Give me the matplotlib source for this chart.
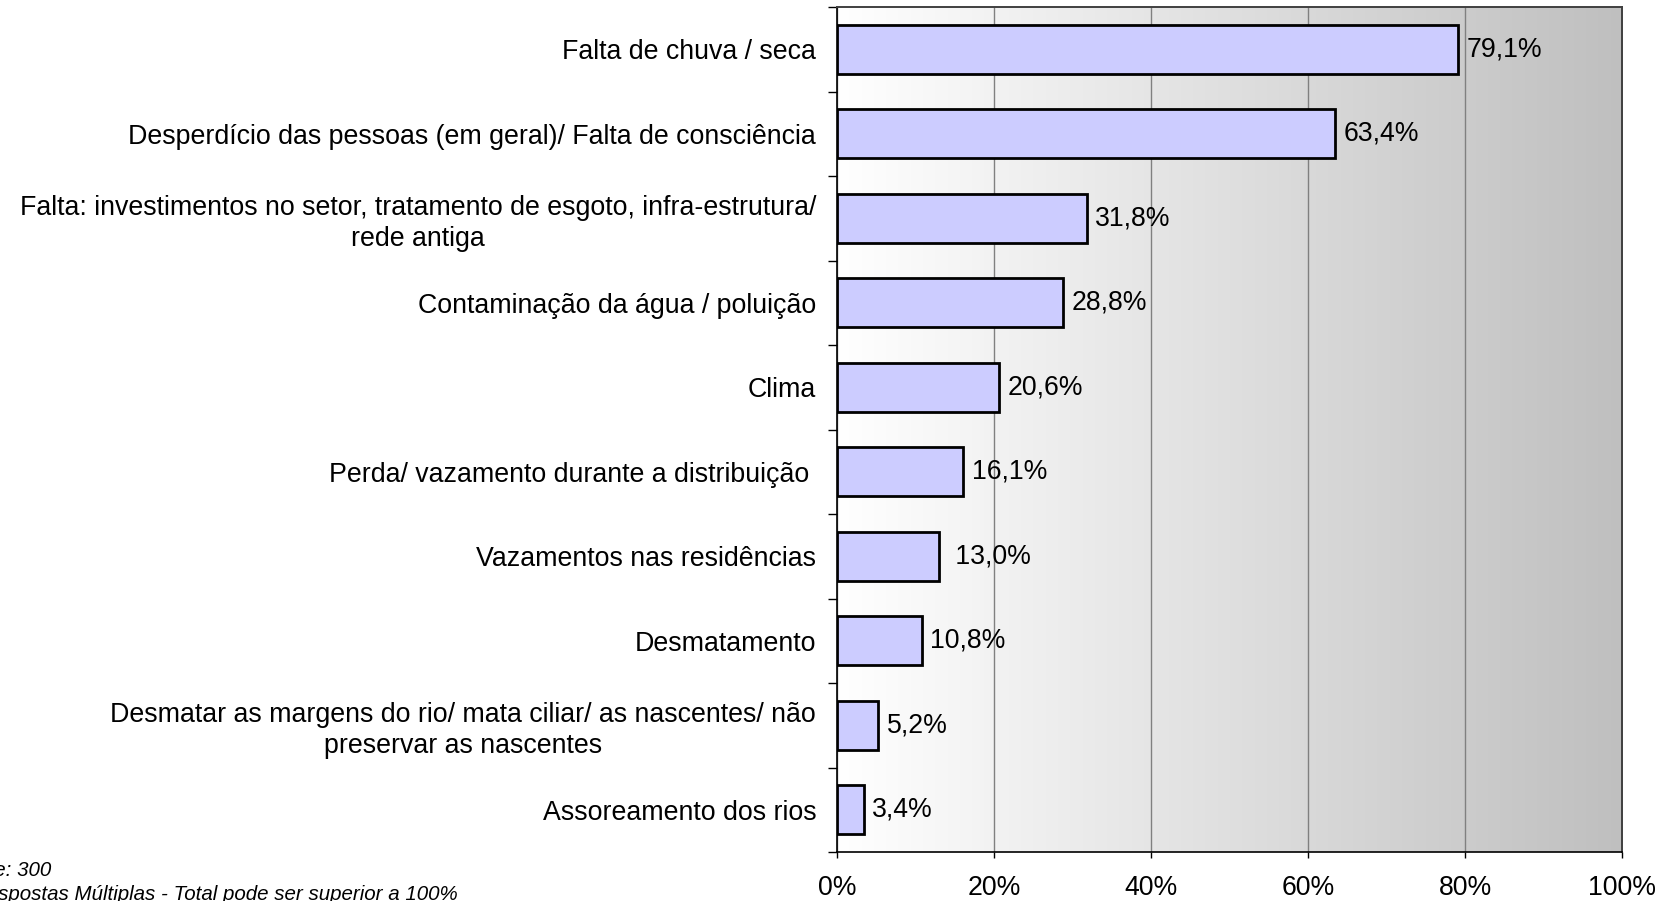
import matplotlib
matplotlib.use("Agg")
import matplotlib.pyplot as plt
import numpy as np

plt.rcParams['font.family'] = ['Liberation Sans', 'DejaVu Sans']

categories = [
    "Falta de chuva / seca",
    "Desperdício das pessoas (em geral)/ Falta de consciência",
    "Falta: investimentos no setor, tratamento de esgoto, infra-estrutura/\nrede antiga",
    "Contaminação da água / poluição",
    "Clima",
    "Perda/ vazamento durante a distribuição ",
    "Vazamentos nas residências",
    "Desmatamento",
    "Desmatar as margens do rio/ mata ciliar/ as nascentes/ não\npreservar as nascentes",
    "Assoreamento dos rios",
]
values = [79.1, 63.4, 31.8, 28.8, 20.6, 16.1, 13.0, 10.8, 5.2, 3.4]
value_labels = ["79,1%", "63,4%", "31,8%", "28,8%", "20,6%", "16,1%", " 13,0%",
                "10,8%", "5,2%", "3,4%"]
x_ticks = [0, 20, 40, 60, 80, 100]
x_ticklabels = ["0%", "20%", "40%", "60%", "80%", "100%"]
notes = ["Base: 300", "Respostas Múltiplas - Total pode ser superior a 100%"]

W, H = 1674, 901
fig = plt.figure(figsize=(W / 100, H / 100), dpi=100)
ax = fig.add_axes([837 / W, 1 - 852 / H, (1622 - 837) / W, (852 - 7) / H])

# horizontal gradient background, white -> gray
grad = np.linspace(0, 1, 256).reshape(1, -1)
cmap = matplotlib.colors.LinearSegmentedColormap.from_list("bg", ["#ffffff", "#bfbfbf"])
ax.imshow(grad, cmap=cmap, aspect="auto", extent=[0, 100, 9.5, -0.5], zorder=0)

y = np.arange(len(categories))
ax.barh(y, values, height=0.58, color="#ccccff", edgecolor="black", linewidth=2, zorder=3)

for yi, v, lab in zip(y, values, value_labels):
    ax.text(v + 1.1, yi, lab, va="center", ha="left", fontsize=19.2, zorder=4)

ax.set_xlim(0, 100)
ax.set_ylim(9.5, -0.5)
ax.set_xticks(x_ticks)
ax.set_xticklabels(x_ticklabels, fontsize=19.2)
ax.set_yticks(y)
ax.set_yticklabels(categories, fontsize=19.3, linespacing=1.22)
for lbl in ax.get_yticklabels():
    lbl.set_multialignment("center")
ax.set_yticks(np.arange(-0.5, 10, 1), minor=True)

ax.tick_params(axis="y", which="major", length=0, pad=15)
ax.tick_params(axis="y", which="minor", length=6.5, width=1, color="black")
ax.tick_params(axis="x", length=4.3, width=1, pad=12)

ax.xaxis.grid(True, color="#808080", linewidth=1, zorder=1)
ax.set_axisbelow(True)
for s in ["top", "right"]:
    ax.spines[s].set_color("#404040")
    ax.spines[s].set_linewidth(1.4)
for s in ["left", "bottom"]:
    ax.spines[s].set_color("black")
    ax.spines[s].set_linewidth(1.2)

fig.text(51 / W, 1 - 876 / H, notes[0], ha="right", va="baseline",
         fontsize=14.8, style="italic")
fig.text(458 / W, 1 - 900 / H, notes[1], ha="right", va="baseline",
         fontsize=14.8, style="italic")

fig.savefig("out.png", dpi=100)
